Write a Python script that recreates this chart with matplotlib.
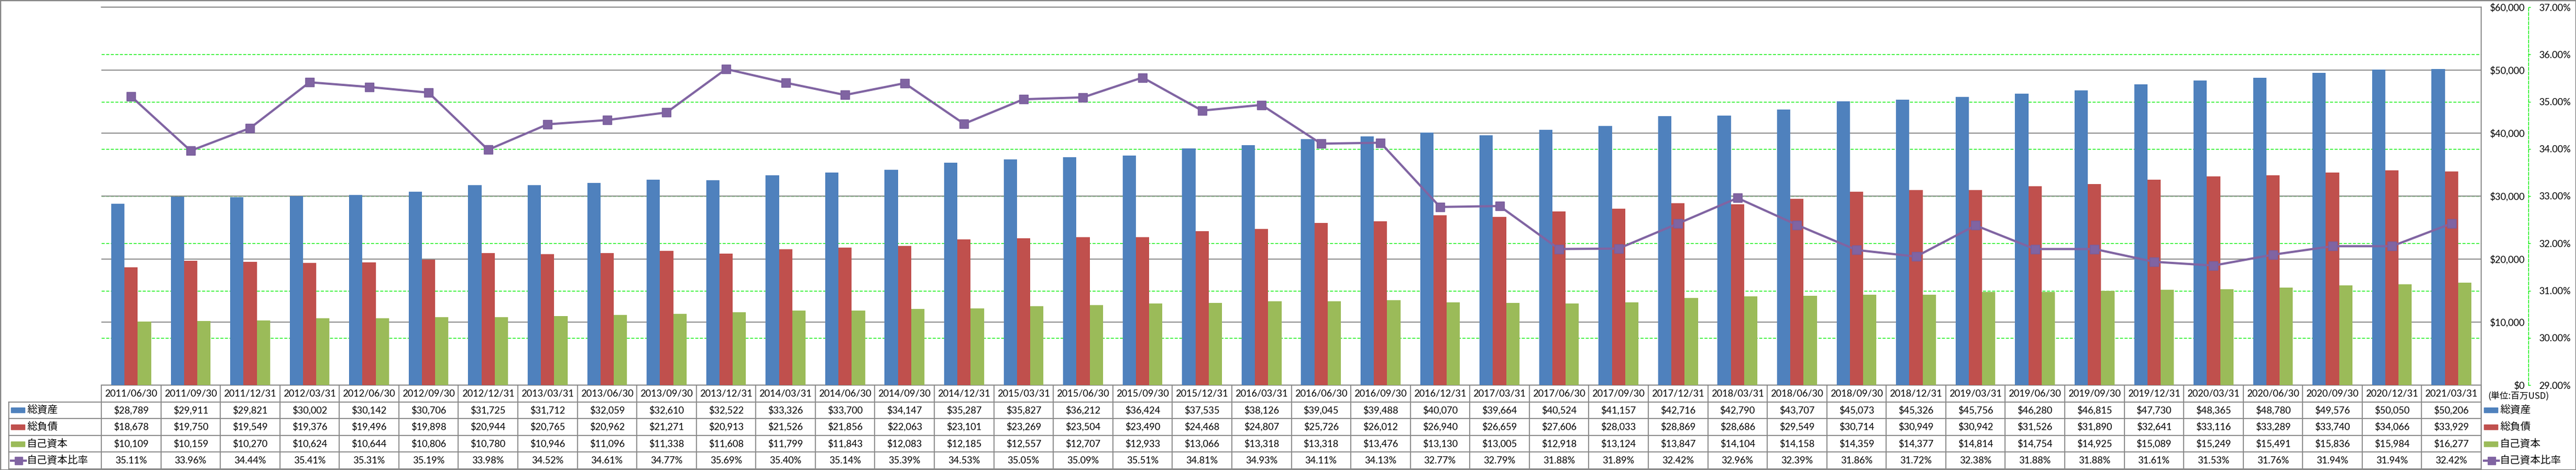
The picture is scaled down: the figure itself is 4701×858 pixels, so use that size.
import numpy as np
import matplotlib
matplotlib.use('Agg')
import matplotlib.pyplot as plt
import matplotlib.transforms as mtransforms
from matplotlib.ticker import FuncFormatter
from matplotlib.lines import Line2D
from matplotlib.patches import Rectangle

# ---- data (millions USD) ----
dates = ['2011/06/30', '2011/09/30', '2011/12/31', '2012/03/31', '2012/06/30',
         '2012/09/30', '2012/12/31', '2013/03/31', '2013/06/30', '2013/09/30',
         '2013/12/31', '2014/03/31', '2014/06/30', '2014/09/30', '2014/12/31',
         '2015/03/31', '2015/06/30', '2015/09/30', '2015/12/31', '2016/03/31',
         '2016/06/30', '2016/09/30', '2016/12/31', '2017/03/31', '2017/06/30',
         '2017/09/30', '2017/12/31', '2018/03/31', '2018/06/30', '2018/09/30',
         '2018/12/31', '2019/03/31', '2019/06/30', '2019/09/30', '2019/12/31',
         '2020/03/31', '2020/06/30', '2020/09/30', '2020/12/31', '2021/03/31']
total_assets = [28789, 29911, 29821, 30002, 30142, 30706, 31725, 31712, 32059, 32610,
                32522, 33326, 33700, 34147, 35287, 35827, 36212, 36424, 37535, 38126,
                39045, 39488, 40070, 39664, 40524, 41157, 42716, 42790, 43707, 45073,
                45326, 45756, 46280, 46815, 47730, 48365, 48780, 49576, 50050, 50206]
total_liab = [18678, 19750, 19549, 19376, 19496, 19898, 20944, 20765, 20962, 21271,
              20913, 21526, 21856, 22063, 23101, 23269, 23504, 23490, 24468, 24807,
              25726, 26012, 26940, 26659, 27606, 28033, 28869, 28686, 29549, 30714,
              30949, 30942, 31526, 31890, 32641, 33116, 33289, 33740, 34066, 33929]
equity = [10109, 10159, 10270, 10624, 10644, 10806, 10780, 10946, 11096, 11338,
          11608, 11799, 11843, 12083, 12185, 12557, 12707, 12933, 13066, 13318,
          13318, 13476, 13130, 13005, 12918, 13124, 13847, 14104, 14158, 14359,
          14377, 14814, 14754, 14925, 15089, 15249, 15491, 15836, 15984, 16277]
equity_ratio = [35.11, 33.96, 34.44, 35.41, 35.31, 35.19, 33.98, 34.52, 34.61, 34.77,
                35.69, 35.40, 35.14, 35.39, 34.53, 35.05, 35.09, 35.51, 34.81, 34.93,
                34.11, 34.13, 32.77, 32.79, 31.88, 31.89, 32.42, 32.96, 32.39, 31.86,
                31.72, 32.38, 31.88, 31.88, 31.61, 31.53, 31.76, 31.94, 31.94, 32.42]
names = ['総資産', '総負債', '自己資本', '自己資本比率']
unit_label = '(単位:百万USD)'

BLUE, RED, GREEN, PURPLE = '#4F81BD', '#C0504D', '#9BBB59', '#8064A2'
GRAY = '#868686'
LIME = '#00EE00'
CJK = ['Noto Sans CJK JP', 'DejaVu Sans']
NUM = ['Lato', 'DejaVu Sans']

W, H, DPI = 4701, 858, 100
fig = plt.figure(figsize=(W / DPI, H / DPI), dpi=DPI)
PX = 72 / DPI  # points per pixel

# plot area in pixels
L, R, T, B = 185, 4528, 13, 703
ax = fig.add_axes([L / W, 1 - B / H, (R - L) / W, (B - T) / H])
ax2 = ax.twinx()

n = len(dates)
x = np.arange(n)
bw = 0.223
ax.bar(x - bw, total_assets, bw, color=BLUE, zorder=3)
ax.bar(x, total_liab, bw, color=RED, zorder=3)
ax.bar(x + bw, equity, bw, color=GREEN, zorder=3)
ax.set_xlim(-0.5, n - 0.5)
ax.set_ylim(0, 60000)
ax.set_xticks([])

ax2.plot(x, equity_ratio, color=PURPLE, lw=2.9, marker='s', ms=12,
         mfc=PURPLE, mec='#7A5E9C', mew=1, zorder=4, solid_joinstyle='round')
ax2.set_ylim(29, 37)

# gridlines
ax.set_yticks(np.arange(0, 60001, 10000))
ax.yaxis.grid(True, color=GRAY, lw=1.3, zorder=1)
ax.set_axisbelow(True)
pct_grid = np.arange(30, 37, 1)
blend = mtransforms.blended_transform_factory(ax.transAxes, ax2.transData)
ax.hlines(pct_grid, 0, 1, transform=blend, colors=LIME, lw=1.0,
          linestyles=(0, (4, 2)), zorder=0.5)

# primary ($) labels sit right of the plot, right aligned
ax.yaxis.tick_right()
ax.yaxis.set_major_formatter(FuncFormatter(lambda v, p: f'${v:,.0f}'))
ax.tick_params(axis='y', length=0, pad=(4607 - R) * PX, labelsize=12.5)
for lab in ax.get_yticklabels():
    lab.set_ha('right')
    lab.set_family(NUM)

for s in ['left']:
    ax.spines[s].set_visible(False)
for s in ['top', 'right', 'bottom']:
    ax.spines[s].set_color(GRAY)
    ax.spines[s].set_linewidth(1.3)

# secondary (%) axis with dashed green spine
ax2.set_yticks(np.arange(29, 37.01, 1))
ax2.yaxis.set_major_formatter(FuncFormatter(lambda v, p: f'{v:.2f}%'))
for s in ['left', 'top', 'bottom']:
    ax2.spines[s].set_visible(False)
ax2.spines['right'].set_position(('outward', (4614 - R) * PX))
ax2.spines['right'].set_color(LIME)
ax2.spines['right'].set_linestyle((0, (4, 2)))
ax2.spines['right'].set_linewidth(1.0)
ax2.tick_params(axis='y', direction='out', length=4 * PX, width=1, color=LIME,
                pad=(4633 - 4618) * PX, labelsize=12.5)
for lab in ax2.get_yticklabels():
    lab.set_family(NUM)

# ---- data table under the plot ----
TB = 856
tax = fig.add_axes([L / W, 1 - TB / H, (R - L) / W, (TB - B) / H], sharex=ax)
tax.set_ylim(5, 0)
tax.axis('off')
rowblend = mtransforms.blended_transform_factory(fig.transFigure, tax.transData)

# column separators
tax.vlines(np.arange(n + 1) - 0.5, 0, 5, colors=GRAY, lw=1.3, clip_on=False)
# row separators (data rows extend over the label column)
for r in range(1, 6):
    tax.add_line(Line2D([16 / W, R / W], [r, r], transform=rowblend, color=GRAY,
                        lw=1.3, clip_on=False))
tax.add_line(Line2D([16 / W, 16 / W], [1, 5], transform=rowblend, color=GRAY,
                    lw=1.3, clip_on=False))
tax.add_line(Line2D([R / W, R / W], [0, 5], transform=rowblend, color=GRAY,
                    lw=1.3, clip_on=False))

rows = [[f'${v:,}' for v in total_assets],
        [f'${v:,}' for v in total_liab],
        [f'${v:,}' for v in equity],
        [f'{v:.2f}%' for v in equity_ratio]]
for k in range(n):
    tax.text(k, 0.5, dates[k], ha='center', va='center', fontsize=12.5,
             family=NUM, clip_on=False)
    for r in range(4):
        tax.text(k, r + 1.5, rows[r][k], ha='center', va='center', fontsize=12.5,
                 family=NUM, clip_on=False)


def draw_key(x0, yc, idx):
    """legend key + label at figure pixel x0, table row centre yc"""
    if idx < 3:
        tax.add_patch(Rectangle((x0 / W, yc - 0.15), 25 / W, 0.3,
                                transform=rowblend, color=[BLUE, RED, GREEN][idx],
                                clip_on=False))
    else:
        tax.add_line(Line2D([x0 / W, (x0 + 27) / W], [yc, yc], transform=rowblend,
                            color=PURPLE, lw=2.9, clip_on=False))
        tax.add_line(Line2D([(x0 + 13.5) / W], [yc], transform=rowblend, marker='s',
                            ms=10, color=PURPLE, clip_on=False))
    tax.text((x0 + 29) / W, yc, names[idx], transform=rowblend, ha='left',
             va='center', fontsize=13.5, family=CJK, clip_on=False)


for i in range(4):
    draw_key(20, i + 1.5, i)
    draw_key(4533, i + 1.5, i)

tax.text(4541 / W, 0.7, unit_label, transform=rowblend, ha='left', va='center',
         fontsize=11.5, family=CJK, clip_on=False)

# outer frame
fig.add_artist(Rectangle((0, 0), 1, 1, transform=fig.transFigure, fill=False,
                         ec=GRAY, lw=2.5))

fig.savefig('out.png', dpi=DPI)
